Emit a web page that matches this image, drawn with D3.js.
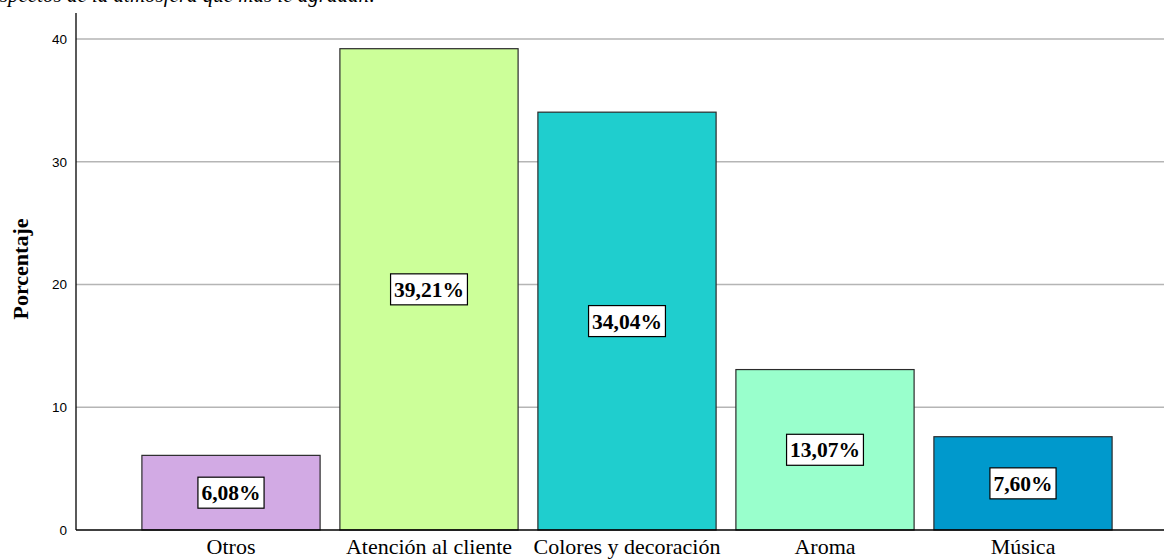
<!DOCTYPE html>
<html>
<head>
<meta charset="utf-8">
<script src="https://cdn.jsdelivr.net/npm/d3@7"></script>
<style>
  html, body { margin: 0; padding: 0; background: #fff; }
  svg { display: block; }
</style>
</head>
<body>
<svg id="chart" width="1164" height="559"></svg>
<script>
// Response categories and their share of respondents (%)
const categories = ["Otros", "Atención al cliente", "Colores y decoración", "Aroma", "Música"];
const percentages = [6.08, 39.21, 34.04, 13.07, 7.60];
const barColors = ["#D2AAE4", "#CCFF99", "#1FCECE", "#99FFCC", "#0099CC"];
const yTicks = [0, 10, 20, 30, 40];
const yLabel = "Porcentaje";
const titleText = "Aspectos de la atmósfera que más le agradan:";

const svg = d3.select("#chart");
const plot = { left: 76, right: 1164, top: 13, bottom: 530 };

const x = d3.scaleBand()
  .domain(categories)
  .range([132, 1122])
  .paddingInner(0.1)
  .paddingOuter(0.05);

const y = d3.scaleLinear()
  .domain([0, 40])
  .range([plot.bottom, 39]);

// Title line running off the top edge of the page
svg.append("text")
  .attr("x", -13)
  .attr("y", 2)
  .attr("font-family", "Liberation Serif, Times New Roman, serif")
  .attr("font-style", "italic")
  .attr("font-size", 21)
  .attr("fill", "#000")
  .text(titleText);

// Horizontal gridlines
svg.append("g")
  .selectAll("line")
  .data(yTicks.filter(d => d > 0))
  .join("line")
  .attr("x1", plot.left)
  .attr("x2", plot.right)
  .attr("y1", d => y(d))
  .attr("y2", d => y(d))
  .attr("stroke", "#b5b5b5")
  .attr("stroke-width", 1.4);

// Bars
const data = categories.map((c, i) => ({ cat: c, value: percentages[i], color: barColors[i] }));

svg.append("g")
  .selectAll("rect")
  .data(data)
  .join("rect")
  .attr("x", d => x(d.cat))
  .attr("y", d => y(d.value))
  .attr("width", x.bandwidth())
  .attr("height", d => y(0) - y(d.value))
  .attr("fill", d => d.color)
  .attr("stroke", "#2b2b2b")
  .attr("stroke-width", 1.2);

// Y axis
const yAxis = svg.append("g")
  .attr("transform", `translate(${plot.left},0)`)
  .call(d3.axisLeft(y).tickValues(yTicks).tickSize(0).tickPadding(9).tickFormat(d3.format("d")));
yAxis.select(".domain").remove();
yAxis.selectAll("text")
  .attr("font-family", "Liberation Sans, Arial, sans-serif")
  .attr("font-size", 13.5)
  .attr("fill", "#000");

svg.append("line")
  .attr("x1", plot.left).attr("x2", plot.left)
  .attr("y1", plot.top).attr("y2", plot.bottom)
  .attr("stroke", "#000").attr("stroke-width", 1.3);

// X axis
const xAxis = svg.append("g")
  .attr("transform", `translate(0,${plot.bottom})`)
  .call(d3.axisBottom(x).tickSize(0).tickPadding(8));
xAxis.select(".domain").remove();
xAxis.selectAll("text")
  .attr("font-family", "Liberation Serif, Times New Roman, serif")
  .attr("font-size", 22)
  .attr("fill", "#000");

svg.append("line")
  .attr("x1", plot.left).attr("x2", plot.right)
  .attr("y1", plot.bottom).attr("y2", plot.bottom)
  .attr("stroke", "#000").attr("stroke-width", 1.3);

// Y axis title
svg.append("text")
  .attr("transform", "translate(28,269) rotate(-90)")
  .attr("text-anchor", "middle")
  .attr("font-family", "Liberation Serif, Times New Roman, serif")
  .attr("font-weight", "bold")
  .attr("font-size", 22)
  .attr("fill", "#000")
  .text(yLabel);

// Boxed value labels centred in each bar
const fmt = v => v.toFixed(2).replace(".", ",") + "%";
const labels = svg.append("g")
  .selectAll("g")
  .data(data)
  .join("g")
  .attr("transform", d => `translate(${x(d.cat) + x.bandwidth() / 2},${y(d.value / 2)})`);

labels.each(function(d) {
  const g = d3.select(this);
  const rect = g.append("rect");
  const t = g.append("text")
    .attr("text-anchor", "middle")
    .attr("dy", "0.35em")
    .attr("font-family", "Liberation Serif, Times New Roman, serif")
    .attr("font-weight", "bold")
    .attr("font-size", 21.5)
    .attr("fill", "#000")
    .text(fmt(d.value));
  const w = t.node().getComputedTextLength() + 7;
  const h = 31;
  rect.attr("x", -w / 2).attr("y", -h / 2)
    .attr("width", w).attr("height", h)
    .attr("fill", "#fff")
    .attr("stroke", "#000")
    .attr("stroke-width", 1.2);
});
</script>
</body>
</html>
